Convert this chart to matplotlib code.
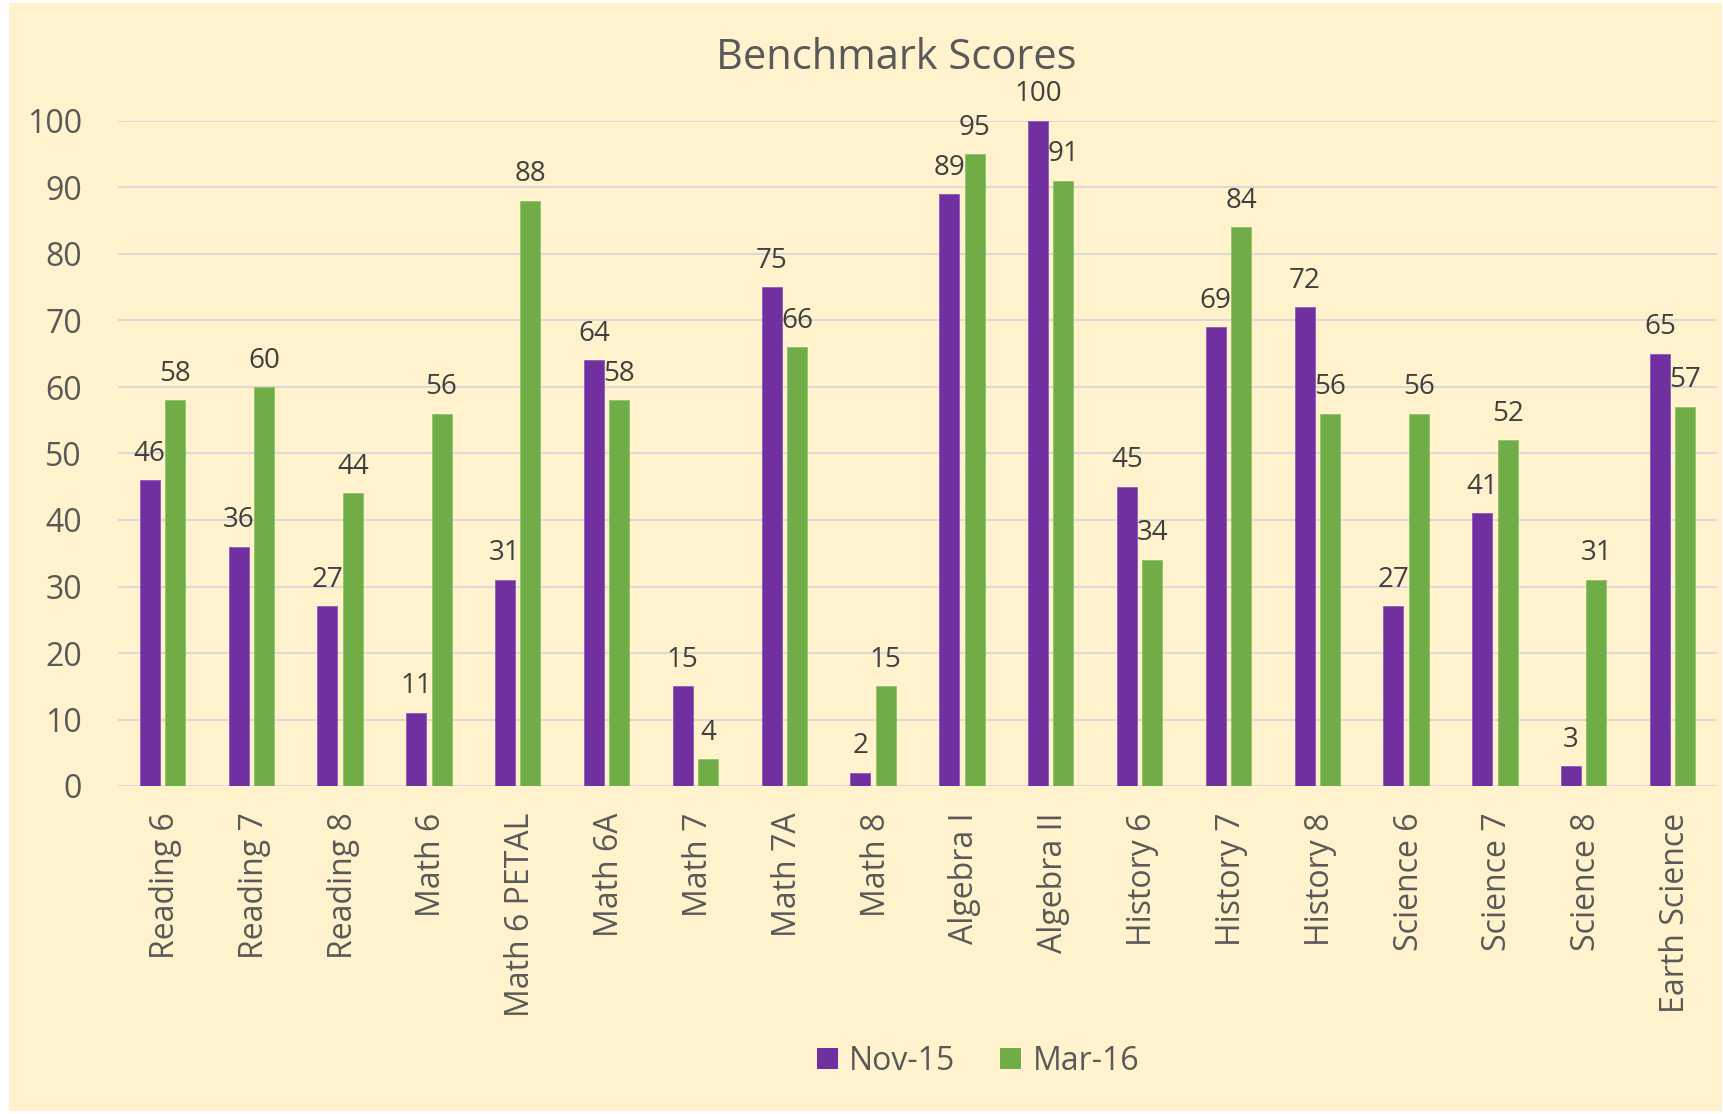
import matplotlib
matplotlib.use("Agg")
import matplotlib.pyplot as plt
import matplotlib.transforms as mtransforms
from matplotlib.patches import Rectangle, Patch
import numpy as np

categories = ["Reading 6", "Reading 7", "Reading 8", "Math 6", "Math 6 PETAL", "Math 6A",
              "Math 7", "Math 7A", "Math 8", "Algebra I", "Algebra II", "History 6",
              "History 7", "History 8", "Science 6", "Science 7", "Science 8", "Earth Science"]
nov15 = [46, 36, 27, 11, 31, 64, 15, 75, 2, 89, 100, 45, 69, 72, 27, 41, 3, 65]
mar16 = [58, 60, 44, 56, 88, 58, 4, 66, 15, 95, 91, 34, 84, 56, 56, 52, 31, 57]
series_names = ["Nov-15", "Mar-16"]
yticks = list(range(0, 101, 10))

PURPLE = "#7030A0"
GREEN = "#70AD47"
BG = "#FFF2CC"
TXT = "#595959"
LBL = "#404040"
GRID = "#D9D9D9"

plt.rcParams['font.family'] = ['Open Sans', 'DejaVu Sans']

W, H = 1724, 1114
fig = plt.figure(figsize=(W / 100, H / 100), dpi=100)
fig.patch.set_facecolor("white")
bgrect = Rectangle((9 / W, 3 / H), (W - 11) / W, (H - 6) / H,
                   transform=fig.transFigure, facecolor=BG, edgecolor="none", zorder=-10)
fig.add_artist(bgrect)

ax = fig.add_axes([118 / W, (H - 786) / H, 1599 / W, 665 / H])
ax.set_facecolor("none")

x = np.arange(len(categories))
bw = 0.225
off = 0.143
b1 = ax.bar(x - off, nov15, bw, color=PURPLE, edgecolor="#8E5BB8", linewidth=0.6, zorder=3)
b2 = ax.bar(x + off, mar16, bw, color=GREEN, edgecolor="#8CC46A", linewidth=0.6, zorder=3)

for bars, vals in ((b1, nov15), (b2, mar16)):
    for r, v in zip(bars, vals):
        ax.annotate(str(v), (r.get_x() + r.get_width() / 2, v), xytext=(0, 9),
                    textcoords="offset points", ha="center", va="bottom",
                    fontsize=20, color=LBL, annotation_clip=False, zorder=5)

ax.set_xlim(-0.5, len(categories) - 0.5)
ax.set_ylim(0, 100)
ax.set_yticks(yticks)
ax.set_xticks(x)
ax.set_xticklabels(categories, rotation=90, fontsize=23, color=TXT)
ax.tick_params(axis="y", labelsize=23, labelcolor=TXT, length=0, pad=26)
ax.tick_params(axis="x", length=0, pad=19)
shift = mtransforms.ScaledTranslation(3 / 100, 0, fig.dpi_scale_trans)
for lbl in ax.get_xticklabels():
    lbl.set_transform(lbl.get_transform() + shift)
for s in ax.spines.values():
    s.set_visible(False)
ax.yaxis.grid(True, color=GRID, linewidth=1.4, zorder=0)
ax.set_axisbelow(True)

fig.text(896 / W, 1 - 58 / H, "Benchmark Scores", ha="center", va="center",
         fontsize=30, color=TXT)

handles = [Patch(facecolor=PURPLE, edgecolor="none"), Patch(facecolor=GREEN, edgecolor="none")]
fig.legend(handles, series_names, loc="center", bbox_to_anchor=(978 / W, 1 - 1061 / H),
           ncol=2, frameon=False, fontsize=23, labelcolor=TXT,
           handlelength=0.66, handleheight=0.66, handletextpad=0.35, columnspacing=1.4)

fig.savefig("out.png", dpi=100, facecolor=fig.get_facecolor())
